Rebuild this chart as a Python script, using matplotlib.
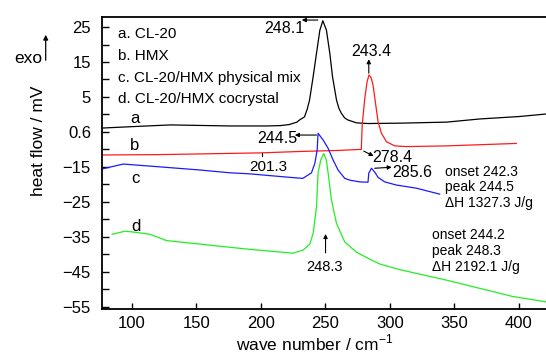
import numpy as np
import matplotlib
matplotlib.use('Agg')
import matplotlib.pyplot as plt

plt.rcParams['font.family'] = ['Liberation Sans', 'DejaVu Sans']
plt.rcParams['mathtext.fontset'] = 'custom'
plt.rcParams['mathtext.rm'] = 'Liberation Sans'

# a. CL-20
a_x = [77, 100, 130, 176, 204.5, 215, 222, 228, 230, 233.9, 236, 237.8, 240.6, 243.2, 245.8, 248.1,
       250.9, 253.5, 255.6, 258.7, 260.5, 262.5, 265, 267.6, 274.1, 282.9, 307.7, 344, 369.6, 400.3, 420.5]
a_y = [-3.9, -3.5, -3.0, -3.3, -3.3, -3.2, -2.9, -2.2, -1.6, -0.7, 1.5, 4.1, 10.8, 17.5, 24.1, 26.8,
       24.1, 17.5, 10.8, 4.1, 1.8, 0.3, -1.0, -1.6, -2.4, -2.6, -2.5, -2.2, -1.3, -0.6, 0.1]

# b. HMX
b_x = [77, 120, 152.9, 200, 230.3, 260, 277.9, 278.6, 280.6, 282.4, 283.9, 285.5, 287, 289.1, 290.9,
       293.5, 297.4, 303.8, 312.8, 343.8, 398]
b_y = [-11.6, -11.5, -11.3, -11.0, -10.6, -10.3, -10.0, -3.0, 4.6, 9.4, 11.3, 10.5, 8.4, 2.7, -2.1,
       -5.4, -7.8, -9.0, -9.2, -9.0, -8.3]

# c. CL-20/HMX physical mix
c_x = [77, 93.5, 121.9, 152.9, 176.1, 191.6, 222.5, 232.6, 239.3, 241.9, 243.7, 244.4, 248.3, 252.2,
       256.0, 259.9, 265.1, 269, 276.7, 283.1, 283.7, 285.8, 288.3, 290.9, 296.1, 305.1, 320.6, 338.6]
c_y = [-15.6, -14.2, -15.0, -15.9, -16.7, -17.0, -18.0, -18.3, -16.7, -14.0, -10.2, -5.4, -7.3, -9.7,
       -13.0, -15.9, -18.3, -18.8, -19.3, -19.4, -16.8, -15.4, -16.5, -18.0, -19.3, -20.2, -21.1, -22.8]

# d. CL-20/HMX cocrystal
d_x = [84.8, 94.8, 102.6, 114.2, 127.1, 152.9, 191.6, 225.1, 232.8, 238.0, 240.6, 243.2, 244.4, 246.5,
       248.8, 250.8, 252.2, 254.8, 258.7, 265.1, 274.1, 284.4, 292.2, 307.7, 343.8, 395.4, 420.7]
d_y = [-34.3, -33.4, -33.7, -34.3, -36.1, -37.1, -38.6, -39.7, -38.8, -37.1, -34.0, -26.4, -16.8, -13.0,
       -11.2, -13.0, -16.8, -24.5, -31.2, -36.5, -39.4, -41.4, -42.8, -44.4, -47.4, -52.1, -53.6]

y_ticks = [25, 15, 5, -5, -15, -25, -35, -45, -55]
y_labels = ['25', '15', '5', '0.6', '\u221215', '\u221225', '\u221235', '\u221245', '\u221255']
x_ticks = [100, 150, 200, 250, 300, 350, 400]
legend_lines = ['a. CL-20', 'b. HMX', 'c. CL-20/HMX physical mix', 'd. CL-20/HMX cocrystal']

fig = plt.figure(figsize=(5.46, 3.55), dpi=100)
ax = fig.add_axes([0.1868, 0.1296, 0.8132, 0.8224])

ax.plot(a_x, a_y, color='black', lw=0.9)
ax.plot(b_x, b_y, color='#ff1a1a', lw=0.9)
ax.plot(c_x, c_y, color='#1a1aff', lw=0.9)
ax.plot(d_x, d_y, color='#22ee22', lw=0.9)

ax.set_xlim(77, 421)
ax.set_ylim(-55.66, 27.86)
ax.set_xticks(x_ticks)
ax.set_yticks(y_ticks)
ax.set_yticklabels(y_labels)
ax.set_yticks([20, 10, 0, -10, -20, -30, -40, -50], minor=True)
ax.tick_params(axis='y', which='both', direction='in', length=5, width=1, labelsize=12, pad=8)
ax.tick_params(axis='x', which='major', direction='in', length=4, width=1, labelsize=12, pad=5)
ax.spines['right'].set_visible(False)
for s in ['left', 'bottom', 'top']:
    ax.spines[s].set_linewidth(1.3)

# legend text
for i, t in enumerate(legend_lines):
    ax.text(89.6, 22.9 - i * 6.2, t, fontsize=11, va='center', ha='left')

# curve labels
ax.text(102.6, -1.3, 'a', fontsize=12, ha='center', va='center')
ax.text(102.6, -8.75, 'b', fontsize=12, ha='center', va='center')
ax.text(102.6, -18.2, 'c', fontsize=12, ha='center', va='center')
ax.text(103.4, -32.2, 'd', fontsize=12, ha='center', va='center')

arr = dict(arrowstyle='-|>', color='black', lw=0.8, mutation_scale=6, shrinkA=0, shrinkB=0)

ax.text(217.9, 24.7, '248.1', fontsize=11.5, ha='center', va='center')
ax.annotate('', xy=(231.8, 27.0), xytext=(244.2, 27.0), arrowprops=arr)

ax.text(286.0, 17.9, '243.4', fontsize=11.5, ha='center', va='center')
ax.annotate('', xy=(283.7, 15.8), xytext=(283.7, 11.8), arrowprops=arr)

ax.text(213.2, -6.75, '244.5', fontsize=11.5, ha='center', va='center')
ax.annotate('', xy=(226.4, -5.9), xytext=(243.2, -5.9), arrowprops=arr)

ax.text(205.5, -15.0, '201.3', fontsize=11, ha='center', va='center')
ax.plot([200.9, 200.9], [-11.9, -11.0], color='black', lw=0.8)

ax.text(302.2, -12.2, '278.4', fontsize=11.5, ha='center', va='center')
ax.annotate('', xy=(287.5, -11.9), xytext=(279.8, -10.5), arrowprops=arr)

ax.text(317.7, -16.5, '285.6', fontsize=11.5, ha='center', va='center')
ax.annotate('', xy=(301.5, -15.1), xytext=(288.3, -15.4), arrowprops=arr)

ax.text(249.6, -43.6, '248.3', fontsize=10.5, ha='center', va='center')
ax.annotate('', xy=(250.2, -34.2), xytext=(250.2, -39.6), arrowprops=arr)

for i, t in enumerate(['onset 242.3', 'peak 244.5', '\u0394H 1327.3 J/g']):
    ax.text(343.0, -16.4 - i * 4.5, t, fontsize=10, ha='left', va='center')
for i, t in enumerate(['onset 244.2', 'peak 248.3', '\u0394H 2192.1 J/g']):
    ax.text(332.7, -34.5 - i * 4.55, t, fontsize=10, ha='left', va='center')

# axis labels and exo marker
fig.text(0.0696, 0.603, 'heat flow / mV', rotation=90, fontsize=12.5, ha='center', va='center')
fig.text(0.576, 0.034, 'wave number / cm$^{\u22121}$', fontsize=12.5, ha='center', va='center')
fig.text(0.0513, 0.834, 'exo', fontsize=12.5, ha='center', va='center')
fig.patches.append(matplotlib.patches.FancyArrowPatch(
    (0.0837, 0.8225), (0.0837, 0.9099), transform=fig.transFigure,
    arrowstyle='-|>', mutation_scale=7, lw=0.9, color='black'))

fig.savefig('out.png', dpi=100)
